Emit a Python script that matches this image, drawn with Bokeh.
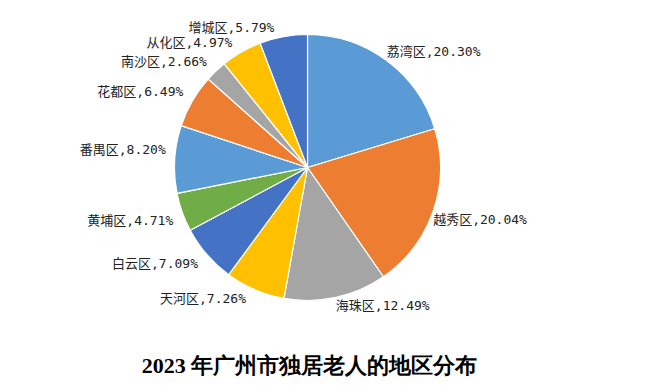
import math
from bokeh.plotting import figure
from bokeh.models import ColumnDataSource, Range1d
from bokeh.core.properties import value
from bokeh.embed import file_html
from bokeh.resources import INLINE

# ---- data ----
districts = ["荔湾区", "越秀区", "海珠区", "天河区", "白云区", "黄埔区",
             "番禺区", "花都区", "南沙区", "从化区", "增城区"]
shares = [20.30, 20.04, 12.49, 7.26, 7.09, 4.71, 8.20, 6.49, 2.66, 4.97, 5.79]
colors = ["#5B9BD5", "#ED7D31", "#A5A5A5", "#FFC000", "#4472C4", "#70AD47",
          "#5B9BD5", "#ED7D31", "#A5A5A5", "#FFC000", "#4472C4"]
title_text = "2023 年广州市独居老人的地区分布"

W, H = 643, 383
CX, CY = 307, 216   # pie centre in plot units (1 unit = 1 px)
R = 133

total = sum(shares)
starts, ends, lx, ly, anchors, xoffs, yoffs, labels = [], [], [], [], [], [], [], []
cum = 0.0
for name, s in zip(districts, shares):
    a0 = math.pi / 2 - 2 * math.pi * cum / total
    cum += s
    a1 = math.pi / 2 - 2 * math.pi * cum / total
    starts.append(a0)
    ends.append(a1)
    mid = (a0 + a1) / 2
    ex = CX + R * math.cos(mid)
    ey = CY + R * math.sin(mid)
    lx.append(ex)
    ly.append(ey)
    right = math.cos(mid) > 0
    top = math.sin(mid) > 0
    if right and top:
        anchors.append("bottom_left"); xoffs.append(0); yoffs.append(-2)
    elif right:
        anchors.append("top_left"); xoffs.append(0); yoffs.append(1)
    elif top:
        anchors.append("bottom_right"); xoffs.append(-9); yoffs.append(-2)
    else:
        anchors.append("top_right"); xoffs.append(-9); yoffs.append(1)
    labels.append(f"{name},{s:.2f}%")

src = ColumnDataSource(dict(start=starts, end=ends, color=colors))
lsrc = ColumnDataSource(dict(x=lx, y=ly, text=labels, anchor=anchors,
                             xo=xoffs, yo=yoffs))

p = figure(width=W, height=H, output_backend="svg", toolbar_location=None,
           x_range=Range1d(0, W), y_range=Range1d(0, H), min_border=0)
p.axis.visible = False
p.grid.visible = False
p.outline_line_color = None

p.wedge(x=CX, y=CY, radius=R, start_angle="start", end_angle="end",
        direction="clock", fill_color="color", line_color="white",
        line_width=1.2, source=src)

p.text(x="x", y="y", text="text", anchor="anchor", x_offset="xo", y_offset="yo",
       text_font=value("DejaVu Sans Mono, Noto Sans CJK SC"), text_font_size="13px",
       text_color="#222222", source=lsrc)

p.text(x=[309], y=[18], text=[title_text], text_align="center",
       text_baseline="middle", text_font=value("Liberation Serif"),
       text_font_style="bold", text_font_size="22px", text_color="#000000")

open("out.html", "w").write(file_html(p, INLINE))
